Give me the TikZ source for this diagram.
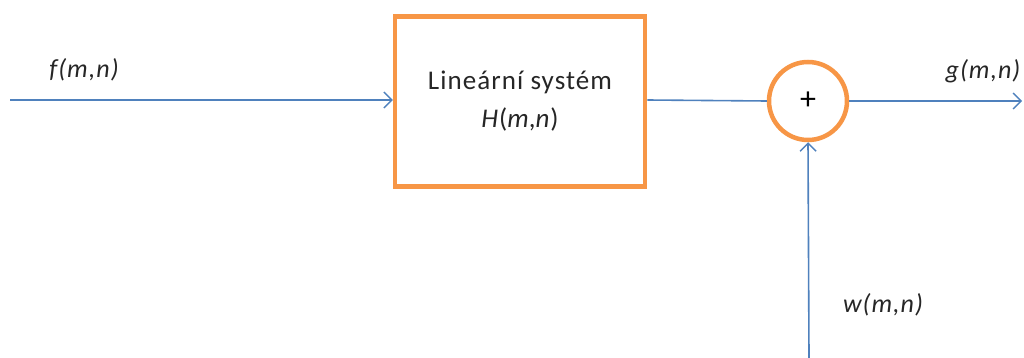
\documentclass[tikz,border=0pt]{standalone}
\usepackage{fontspec}
\setmainfont{Carlito}
\usetikzlibrary{arrows.meta}
\definecolor{lineblue}{RGB}{79,129,189}
\definecolor{boxorange}{RGB}{247,150,70}
\tikzset{
  sysbox/.style={draw=boxorange, line width=4.5pt, fill=white, minimum width=250pt, minimum height=170pt, inner sep=0pt, align=center, font=\fontsize{27}{38}\selectfont\addfontfeatures{LetterSpace=4}, text=black!85},
  sumnode/.style={draw=boxorange, line width=4.5pt, circle, fill=white, minimum size=78pt, inner sep=0pt, font=\fontsize{32}{34}\selectfont},
  sig/.style={draw=lineblue, line width=1.6pt, -{Straight Barb[length=8pt,width=16pt,line width=1.4pt]}},
  lbl/.style={font=\itshape\fontsize{26}{28}\selectfont\addfontfeatures{LetterSpace=4}, text=black!85}
}
\begin{document}
\begin{tikzpicture}[x=1pt,y=-1pt]
\useasboundingbox (0,0) rectangle (1024,358);
\node[sysbox] (sys) at (520,101.5) {Lineární systém\\\textit{H}(\textit{m},\textit{n})};
\node[sumnode] (sum) at (808,101) {+};
\coordinate (in) at (10,100);
\coordinate (out) at (1022,101);
\coordinate (noise) at (809,358);
\draw[sig] (in) -- (in -| sys.west);
\draw[draw=lineblue, line width=1.6pt] (sys.east |- 0,100) -- (sum.west);
\draw[sig] (sum.east) -- (out);
\draw[sig] (noise) -- (sum.south);
\node[lbl] (f) at (84,70) {f(m,n)};
\node[lbl] (g) at (983,71) {g(m,n)};
\node[lbl] (w) at (883,305) {w(m,n)};
\end{tikzpicture}
\end{document}
